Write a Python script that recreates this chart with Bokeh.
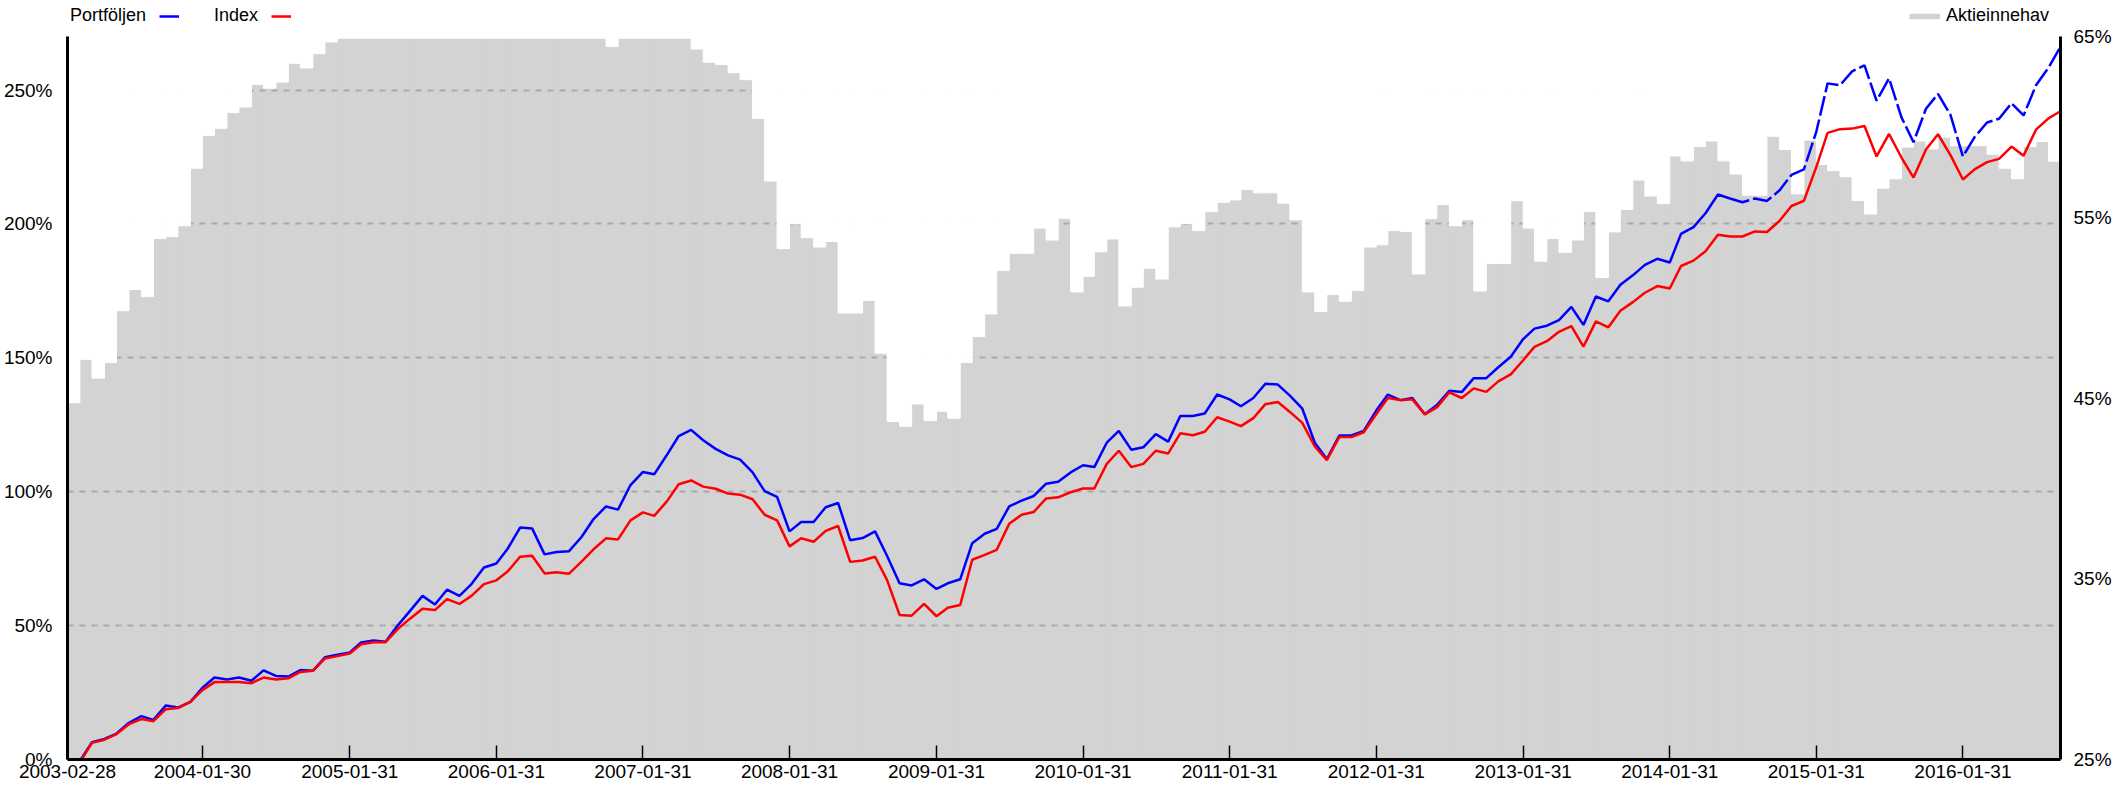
import calendar
import datetime as dt
from bokeh.plotting import figure
from bokeh.models import (Range1d, LinearAxis, FixedTicker, PrintfTickFormatter,
                          DatetimeTickFormatter, Legend, LegendItem)
from bokeh.core.properties import value
from bokeh.embed import file_html
from bokeh.resources import INLINE

# ---------------- data ----------------
# monthly observation dates, 2003-02-28 .. 2016-09-30
dates = []
y, m = 2003, 2
while (y, m) <= (2016, 9):
    dates.append(dt.datetime(y, m, calendar.monthrange(y, m)[1]))
    m += 1
    if m == 13:
        y, m = y + 1, 1
dates[11] = dt.datetime(2004, 1, 30)

tick_dates = ["2003-02-28", "2004-01-30", "2005-01-31", "2006-01-31", "2007-01-31",
              "2008-01-31", "2009-01-31", "2010-01-31", "2011-01-31", "2012-01-31",
              "2013-01-31", "2014-01-31", "2015-01-31", "2016-01-31"]

left_ticks = [0, 50, 100, 150, 200, 250]
right_ticks = [25, 35, 45, 55, 65]

portfoljen = [
    0, -0.5, 6.5, 7.7, 9.7, 13.7, 16.2, 14.8, 20.2, 19.4,
    21.5, 26.8, 30.6, 29.9, 30.6, 29.4, 33.3, 31.2, 31.0, 33.4,
    33.1, 38.2, 39.1, 40.0, 43.7, 44.4, 44.0, 50.2, 55.5, 61.1,
    57.9, 63.4, 61.1, 65.5, 71.7, 73.2, 78.7, 86.6, 86.3, 76.6,
    77.5, 77.8, 83.1, 89.8, 94.5, 93.3, 102.5, 107.4, 106.5, 113.6,
    120.8, 123.1, 119.2, 116.0, 113.6, 112.0, 107.2, 100.2, 98.1, 85.2,
    88.7, 88.7, 94.2, 95.8, 81.9, 82.7, 85.2, 76.0, 65.8, 65.0,
    67.3, 63.7, 65.8, 67.3, 80.8, 84.3, 86.1, 94.5, 96.7, 98.4,
    103.0, 103.7, 107.2, 109.9, 109.2, 118.3, 122.7, 115.7, 116.6, 121.5,
    118.7, 128.3, 128.3, 129.2, 136.3, 134.5, 131.9, 135.0, 140.3, 140.0,
    135.9, 131.0, 118.3, 112.2, 121.0, 121.0, 122.7, 130.3, 136.3, 134.2,
    135.0, 128.9, 132.4, 137.7, 137.2, 142.4, 142.4, 146.5, 150.4, 157.0,
    160.9, 162.0, 164.1, 169.0, 162.3, 172.9, 171.1, 177.3, 180.8, 184.7,
    187.0, 185.6, 196.3, 198.8, 204.0, 211.0, 209.5, 208.1, 209.5, 208.6,
    212.5, 218.3, 220.4, 234.5, 252.5, 251.8, 257.0, 259.2, 246.0, 254.4,
    239.8, 230.5, 243.0, 248.6, 240.7, 225.2, 232.4, 237.9, 239.3, 245.1,
    240.5, 251.8, 258.3, 266.2]

index_serie = [
    0, -1.0, 6.2, 7.4, 9.5, 13.2, 15.1, 14.3, 18.8, 19.2,
    21.5, 25.9, 28.9, 28.9, 28.9, 28.5, 30.6, 29.9, 30.3, 32.7,
    33.1, 37.7, 38.6, 39.6, 43.0, 43.8, 43.8, 48.8, 52.6, 56.3,
    55.8, 59.9, 58.1, 61.1, 65.5, 66.9, 70.2, 75.7, 76.1, 69.5,
    69.9, 69.4, 73.9, 78.5, 82.6, 82.2, 89.3, 92.3, 91.0, 96.3,
    102.8, 104.2, 101.9, 101.1, 99.3, 98.9, 97.2, 91.4, 89.3, 79.6,
    82.6, 81.3, 85.4, 87.2, 73.8, 74.3, 75.7, 67.0, 54.0, 53.7,
    58.1, 53.5, 56.7, 57.7, 74.6, 76.4, 78.3, 88.0, 91.4, 92.4,
    97.5, 97.9, 99.8, 101.2, 101.2, 110.4, 115.3, 109.2, 110.4, 115.3,
    114.3, 121.8, 121.1, 122.4, 127.8, 126.2, 124.5, 127.5, 132.7, 133.5,
    129.8, 125.7, 116.9, 111.8, 120.4, 120.4, 122.2, 128.9, 135.0, 134.2,
    134.5, 128.9, 131.5, 137.1, 135.0, 138.6, 137.3, 141.2, 143.8, 149.1,
    154.1, 156.2, 159.7, 161.8, 154.2, 163.6, 161.4, 167.6, 170.8, 174.3,
    176.8, 175.9, 184.3, 186.3, 189.8, 196.0, 195.3, 195.3, 197.2, 197.0,
    201.1, 206.7, 208.6, 221.3, 234.0, 235.4, 235.6, 236.6, 225.2, 233.6,
    224.8, 217.3, 227.8, 233.5, 225.7, 216.6, 220.4, 223.1, 224.3, 228.9,
    225.5, 235.2, 239.4, 242.1]

# Aktieinnehav (%), one value per month interval
aktieinnehav = [
    44.74, 47.14, 46.10, 46.96, 49.83, 51.00, 50.61, 53.82, 53.93, 54.53,
    57.71, 59.53, 59.92, 60.79, 61.10, 62.35, 62.14, 62.48, 63.52, 63.26,
    64.05, 64.70, 64.91, 64.91, 64.91, 64.91, 64.91, 64.91, 64.91, 64.91,
    64.91, 64.91, 64.91, 64.91, 64.91, 64.91, 64.91, 64.91, 64.91, 64.91,
    64.91, 64.91, 64.91, 64.91, 64.44, 64.91, 64.91, 64.91, 64.91, 64.91,
    64.91, 64.31, 63.58, 63.45, 63.00, 62.61, 60.47, 57.00, 53.27, 54.66,
    53.87, 53.35, 53.66, 49.70, 49.70, 50.40, 47.48, 43.70, 43.44, 44.67,
    43.75, 44.27, 43.88, 46.96, 48.40, 49.65, 52.05, 53.01, 53.01, 54.40,
    53.74, 54.94, 50.87, 51.73, 53.09, 53.80, 50.09, 51.13, 52.18, 51.58,
    54.47, 54.66, 54.26, 55.31, 55.83, 55.96, 56.53, 56.35, 56.35, 55.78,
    54.86, 50.87, 49.78, 50.72, 50.35, 50.95, 53.35, 53.48, 54.26, 54.21,
    51.86, 54.92, 55.70, 54.53, 54.86, 50.92, 52.44, 52.44, 55.91, 54.40,
    52.57, 53.82, 53.06, 53.74, 55.31, 51.66, 54.19, 55.44, 57.06, 56.17,
    55.75, 58.39, 58.12, 58.91, 59.22, 58.12, 57.39, 56.22, 56.22, 59.48,
    58.75, 56.30, 59.27, 57.92, 57.58, 57.24, 55.93, 55.18, 56.61, 57.13,
    58.88, 59.22, 58.78, 59.43, 58.96, 58.96, 58.96, 58.49, 57.71, 57.13,
    58.91, 59.19, 58.10]

FONT = "Liberation Sans"
BLUE, RED, GREY = "#0000ff", "#ff0000", "#d3d3d3"
DASH_FROM = 136  # portfolio drawn dashed from this point on

# ---------------- layout constants ----------------
W, H = 2114, 787
BORDER_L, BORDER_R, BORDER_B = 62, 49, 28
FRAME_H = H - BORDER_B            # frame reaches the top of the canvas (legend row lives inside it)
LEGEND_ROOM = 36                  # px of frame above the top of the value axes
L_MAX, R_MIN, R_MAX = 270, 25, 65
scale_ext = FRAME_H / (FRAME_H - LEGEND_ROOM)
left_range = Range1d(0, L_MAX * scale_ext)
right_range = Range1d(R_MIN, R_MIN + (R_MAX - R_MIN) * scale_ext)

# ---------------- main chart ----------------
p = figure(width=W, height=H, x_axis_type="datetime",
           output_backend="svg", toolbar_location=None,
           x_range=Range1d(dates[0], dates[-1]), y_range=left_range,
           min_border_left=BORDER_L, min_border_right=BORDER_R,
           min_border_top=0, min_border_bottom=BORDER_B)
p.extra_y_ranges = {"aktie": right_range}
p.outline_line_color = None

left_edges = dates[:-1]
right_edges = dates[1:]
p.quad(left=left_edges, right=right_edges, bottom=R_MIN, top=aktieinnehav,
       y_range_name="aktie", fill_color=GREY, line_color=GREY, line_width=1, level="image")
# white above the holdings bars hides the grid there
p.quad(left=left_edges, right=right_edges, bottom=aktieinnehav, top=R_MAX,
       y_range_name="aktie", fill_color="white", line_color="white", line_width=1)

blue_line = p.line(dates[:DASH_FROM + 1], portfoljen[:DASH_FROM + 1], line_color=BLUE, line_width=2.5)
p.line(dates[DASH_FROM:], portfoljen[DASH_FROM:], line_color=BLUE, line_width=2.5,
       line_dash="20 4")
red_line = p.line(dates, index_serie, line_color=RED, line_width=2.5)

# legend-only renderers (nothing visible in the plot)
blank = p.line(x=[], y=[], line_alpha=0)
grey_swatch = p.line(x=[dates[0]], y=[float("nan")], line_color=GREY, line_width=5.5)

p.xgrid.visible = False
p.ygrid.ticker = FixedTicker(ticks=left_ticks[1:])
p.ygrid.grid_line_color = "#a9a9a9"
p.ygrid.grid_line_width = 2
p.ygrid.grid_line_dash = "6 6"

def style_axis(ax):
    ax.axis_line_color = "black"
    ax.axis_line_width = 3
    ax.major_label_text_font = FONT
    ax.major_label_text_font_size = "19px"
    ax.major_label_text_color = "black"
    ax.minor_tick_line_color = None

yax = p.yaxis[0]
yax.ticker = FixedTicker(ticks=left_ticks)
yax.formatter = PrintfTickFormatter(format="%d%%")
yax.bounds = (0, L_MAX)
yax.major_tick_line_color = None
yax.major_label_standoff = 9
style_axis(yax)

rax = LinearAxis(y_range_name="aktie", ticker=FixedTicker(ticks=right_ticks),
                 formatter=PrintfTickFormatter(format="%d%%"), bounds=(R_MIN, R_MAX))
rax.major_tick_line_color = None
rax.major_label_standoff = 7
style_axis(rax)
p.add_layout(rax, "right")

xax = p.xaxis[0]
tick_ms = [dt.datetime.strptime(s, "%Y-%m-%d").replace(tzinfo=dt.timezone.utc).timestamp() * 1000
           for s in tick_dates]
xax.ticker = FixedTicker(ticks=tick_ms)
fmt = "%Y-%m-%d"
xax.formatter = DatetimeTickFormatter(microseconds=fmt, milliseconds=fmt, seconds=fmt, minsec=fmt,
                                      minutes=fmt, hourmin=fmt, hours=fmt, days=fmt,
                                      months=fmt, years=fmt)
xax.major_tick_in = 14
xax.major_tick_out = 0
xax.major_tick_line_width = 1.5
xax.major_tick_line_color = "black"
xax.major_label_standoff = 5
style_axis(xax)

# ---------------- legends (inside the frame's top strip) ----------------
LEG_Y = FRAME_H - 26   # legend bottom, px above frame bottom
common = dict(orientation="horizontal", padding=0, margin=0, glyph_height=20, label_height=20,
              label_width=0, label_text_font=FONT, label_text_font_size="18px",
              label_text_color="black", border_line_color=None, background_fill_alpha=0)

# "label  swatch" pairs: an empty glyph before each label, an empty label after each swatch
left_legend = Legend(
    items=[
        LegendItem(label=value("Portföljen"), renderers=[blank]),
        LegendItem(label=value(""), renderers=[blue_line]),
        LegendItem(label=value("Index"), renderers=[blank]),
        LegendItem(label=value(""), renderers=[red_line]),
    ],
    location=(-18, LEG_Y), glyph_width=20, label_standoff=1, spacing=13, **common)
p.add_layout(left_legend)

right_legend = Legend(
    items=[LegendItem(label=value("Aktieinnehav"), renderers=[grey_swatch])],
    location=(1842, LEG_Y), glyph_width=31, label_standoff=6, spacing=0, **common)
p.add_layout(right_legend)

open("out.html", "w").write(file_html(p, INLINE))
